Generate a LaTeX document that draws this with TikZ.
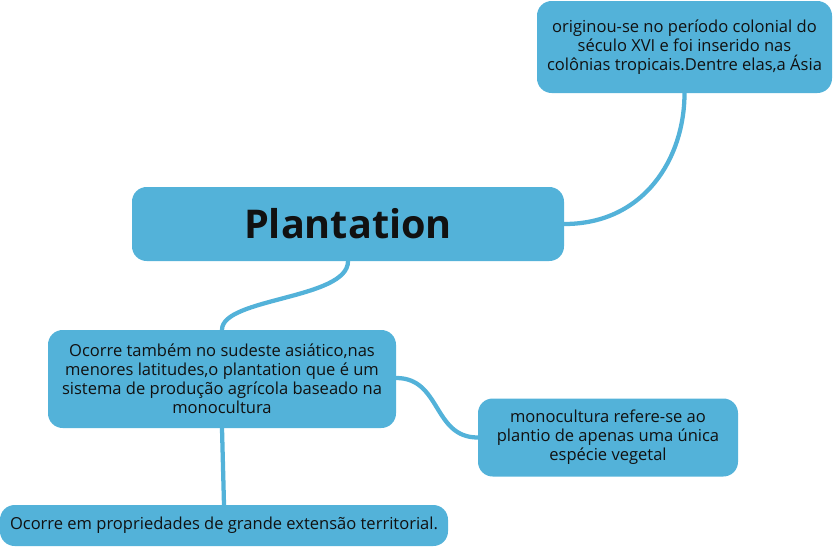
\documentclass[tikz,border=0pt]{standalone}
\usepackage{fontspec}
\setmainfont{Open Sans}
\definecolor{boxblue}{HTML}{53B2D9}
\definecolor{txt}{HTML}{111111}
\tikzset{
  mbox/.style={fill=boxblue, draw=none, rounded corners=11pt, inner sep=0pt, align=center,
    text=txt, font=\fontsize{12.4pt}{14.3pt}\selectfont},
  conn/.style={draw=boxblue, line width=3.2pt, line cap=round}
}
\begin{document}
\begin{tikzpicture}[x=0.75pt,y=-0.75pt]
\useasboundingbox (0,0) rectangle (833,547);
\node[mbox, minimum width=221.25pt, minimum height=69pt] (top) at (684.5,47)
  {originou-se no período colonial do\\século XVI e foi inserido nas\\colônias tropicais.Dentre elas,a Ásia};
\node[mbox, minimum width=324pt, minimum height=55.5pt, font=\fontsize{29.7pt}{32pt}\selectfont\bfseries] (plant) at (348,224) {Plantation};
\node[mbox, minimum width=261pt, minimum height=73.5pt] (mid) at (222,379)
  {Ocorre também no sudeste asiático,nas\\menores latitudes,o plantation que é um\\sistema de produção agrícola baseado na\\monocultura};
\node[mbox, minimum width=195pt, minimum height=58.5pt] (right) at (608,437.5)
  {monocultura refere-se ao\\plantio de apenas uma única\\espécie vegetal};
\node[mbox, minimum width=336pt, minimum height=30.75pt] (bot) at (224,525.5)
  {Ocorre em propriedades de grande extensão territorial.};
\draw[conn] (plant.east) .. controls +(80,0) and +(0,65) .. (top.south);
\draw[conn] (plant.south) .. controls +(0,38) and +(0,-32) .. (mid.north);
\draw[conn] ([yshift=0.75pt]mid.east) .. controls +(45,0) and +(-45,0) .. (right.west);
\draw[conn] (mid.south) -- (bot.north);
\end{tikzpicture}
\end{document}
